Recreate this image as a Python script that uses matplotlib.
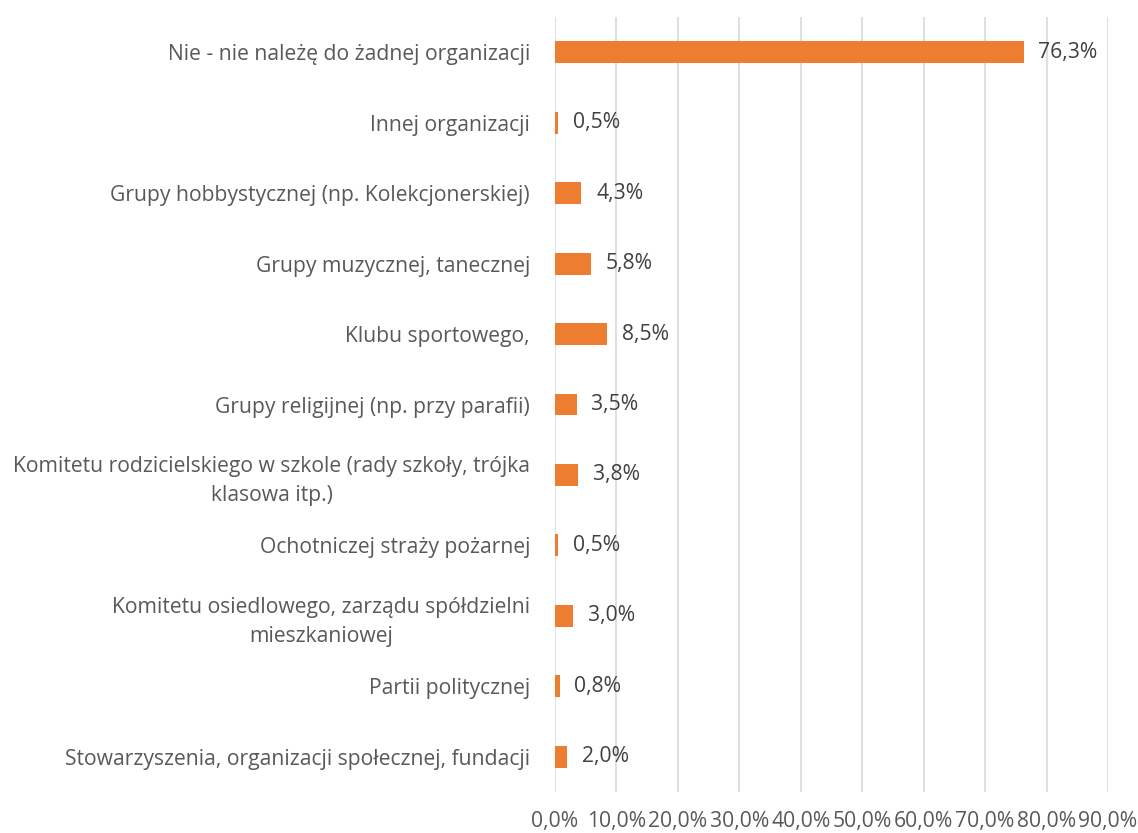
import matplotlib
matplotlib.use("Agg")
import matplotlib.pyplot as plt
from matplotlib.ticker import MultipleLocator, FuncFormatter

categories = [
    "Nie - nie należę do żadnej organizacji",
    "Innej organizacji",
    "Grupy hobbystycznej (np. Kolekcjonerskiej)",
    "Grupy muzycznej, tanecznej",
    "Klubu sportowego,",
    "Grupy religijnej (np. przy parafii)",
    "Komitetu rodzicielskiego w szkole (rady szkoły, trójka\nklasowa itp.)",
    "Ochotniczej straży pożarnej",
    "Komitetu osiedlowego, zarządu spółdzielni\nmieszkaniowej",
    "Partii politycznej",
    "Stowarzyszenia, organizacji społecznej, fundacji",
]
values = [76.3, 0.5, 4.3, 5.8, 8.5, 3.5, 3.8, 0.5, 3.0, 0.8, 2.0]

FONT = "Open Sans"
FS = 15.2
TXT = "#595959"

fig = plt.figure(figsize=(11.38, 8.33), dpi=100)
ax = fig.add_axes([555 / 1138, 1 - 792 / 833, (1108 - 555) / 1138, (792 - 17) / 833])

y = list(range(len(categories)))
ax.barh(y, values, height=0.31, color="#ED7D31", zorder=3)
ax.set_ylim(len(categories) - 0.5, -0.5)
ax.set_xlim(0, 90)
ax.xaxis.set_major_locator(MultipleLocator(10))
ax.xaxis.set_major_formatter(FuncFormatter(lambda v, p: f"{v:.1f}%".replace(".", ",")))
ax.grid(axis="x", color="#D9D9D9", linewidth=1.2, zorder=0)
for s in ax.spines.values():
    s.set_visible(False)
ax.tick_params(axis="x", length=0, pad=13.5, labelsize=FS, labelcolor=TXT)
ax.tick_params(axis="y", length=0, pad=18)
ax.set_yticks(y)
ax.set_yticklabels(categories, fontsize=FS, color=TXT, fontfamily=FONT,
                   multialignment="center", linespacing=1.45)
for lab in ax.get_xticklabels():
    lab.set_fontfamily(FONT)

for yi, v in zip(y, values):
    ax.annotate(f"{v:.1f}%".replace(".", ","), (v, yi), xytext=(10.5, 0), textcoords="offset points",
                ha="left", va="center", fontsize=FS, color="#404040", fontfamily=FONT)

fig.savefig("out.png", dpi=100)
